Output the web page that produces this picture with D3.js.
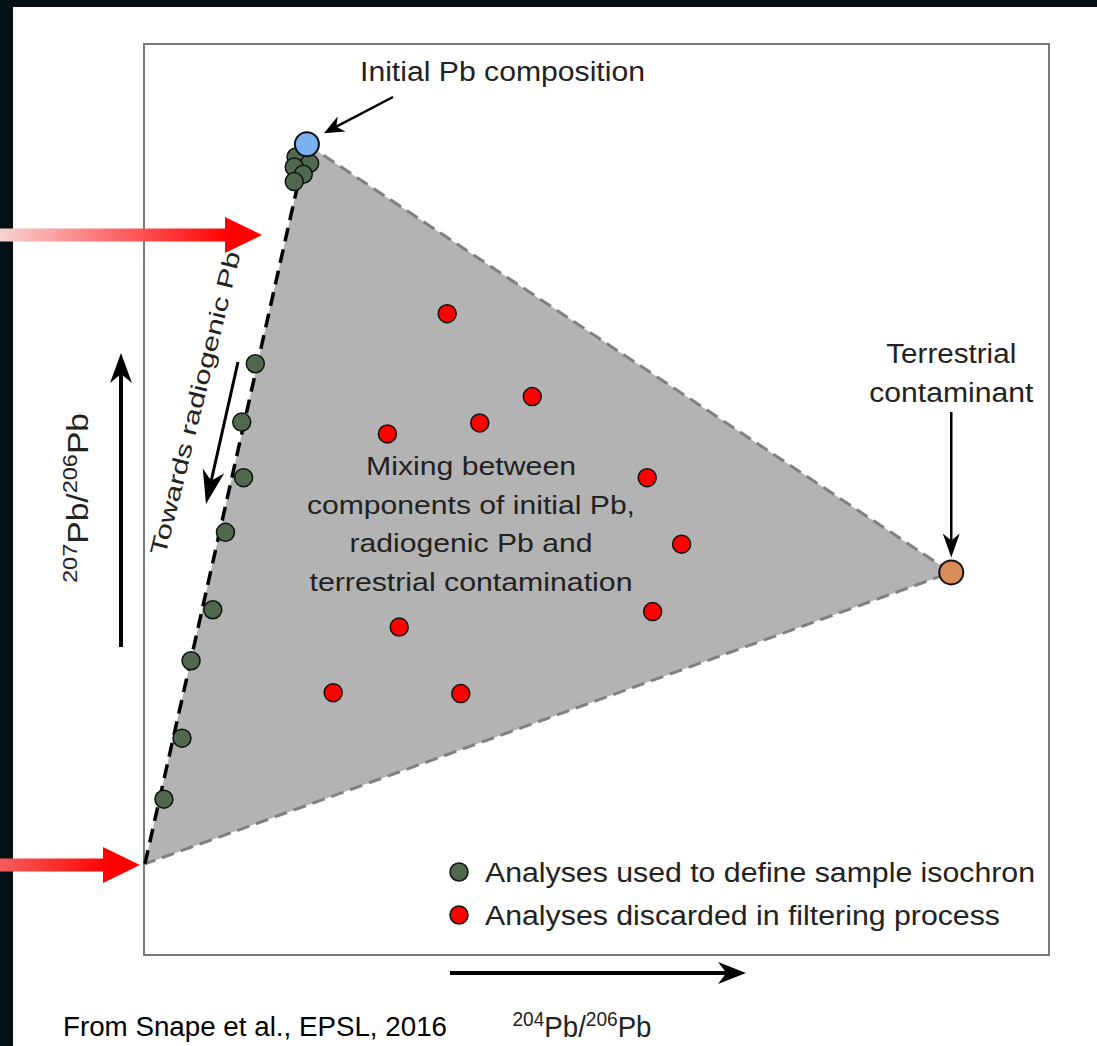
<!DOCTYPE html>
<html lang="en">
<head>
<meta charset="UTF-8">
<title>Pb isochron mixing diagram</title>
<script src="https://d3js.org/d3.v7.min.js"></script>
<style>
  html, body { margin: 0; padding: 0; background: #041014; }
  svg { display: block; }
  text { font-family: "Liberation Sans", Arial, sans-serif; fill: #222; }
</style>
</head>
<body>
<div id="chart"></div>
<script>
// values in arbitrary units (0-100) of 204Pb/206Pb (x) and 207Pb/206Pb (y)
const initialPb = [{ x: 18.0, y: 89.0 }];
const radiogenicPb = [{ x: 0.1, y: 10.0 }];
const terrestrialPb = [{ x: 89.2, y: 42.0 }];

const isochronPts = [
  { x: 16.8, y: 87.6 }, { x: 18.3, y: 86.9 }, { x: 16.6, y: 86.5 },
  { x: 17.6, y: 85.7 }, { x: 16.6, y: 84.9 },
  { x: 12.3, y: 64.9 }, { x: 10.8, y: 58.5 }, { x: 11.0, y: 52.4 },
  { x: 9.0, y: 46.4 }, { x: 7.6, y: 37.9 }, { x: 5.2, y: 32.3 },
  { x: 4.2, y: 23.8 }, { x: 2.2, y: 17.1 }
];
const discardedPts = [
  { x: 33.5, y: 70.4 }, { x: 42.9, y: 61.3 }, { x: 37.1, y: 58.4 },
  { x: 26.9, y: 57.2 }, { x: 55.6, y: 52.4 }, { x: 59.4, y: 45.1 },
  { x: 56.2, y: 37.7 }, { x: 28.2, y: 36.0 }, { x: 20.9, y: 28.8 },
  { x: 35.0, y: 28.7 }
];

const legendLabels = ["Analyses used to define sample isochron", "Analyses discarded in filtering process"];
const legendWidths = [550, 515];
const mixingLines = ["Mixing between", "components of initial Pb,", "radiogenic Pb and", "terrestrial contamination"];
const mixingWidths = [210, 328, 243, 323];

const W = 1097, H = 1046;
const box = { left: 144, top: 44, right: 1049, bottom: 955 };

const svg = d3.select("#chart").append("svg").attr("width", W).attr("height", H);
const defs = svg.append("defs");

// white panel over the dark slide
svg.append("rect").attr("x", 13).attr("y", 7).attr("width", W - 13).attr("height", H - 7).attr("fill", "#fff");

const x = d3.scaleLinear().domain([0, 100]).range([box.left, box.right]);
const y = d3.scaleLinear().domain([0, 100]).range([box.bottom, box.top]);

function fit(sel, w) {
  return sel.attr("textLength", w).attr("lengthAdjust", "spacingAndGlyphs");
}

// frame
svg.append("rect")
  .attr("x", box.left).attr("y", box.top)
  .attr("width", box.right - box.left).attr("height", box.bottom - box.top)
  .attr("fill", "none").attr("stroke", "#7a7a7a").attr("stroke-width", 2);

// mixing triangle
const tri = [radiogenicPb[0], initialPb[0], terrestrialPb[0]];
svg.append("path")
  .attr("d", d3.line().x(d => x(d.x)).y(d => y(d.y))(tri) + "Z")
  .attr("fill", "#b3b3b3");

svg.append("path")
  .attr("d", d3.line().x(d => x(d.x)).y(d => y(d.y))([initialPb[0], terrestrialPb[0], radiogenicPb[0]]))
  .attr("fill", "none").attr("stroke", "#808080").attr("stroke-width", 3)
  .attr("stroke-dasharray", "13,7");

svg.append("line")
  .attr("x1", x(radiogenicPb[0].x)).attr("y1", y(radiogenicPb[0].y))
  .attr("x2", x(initialPb[0].x)).attr("y2", y(initialPb[0].y))
  .attr("stroke", "#000").attr("stroke-width", 3.5)
  .attr("stroke-dasharray", "14,8");

function arrow(x1, y1, x2, y2, w, hl, hw) {
  const a = Math.atan2(y2 - y1, x2 - x1);
  const bx = x2 - hl * Math.cos(a), by = y2 - hl * Math.sin(a);
  svg.append("line").attr("x1", x1).attr("y1", y1).attr("x2", bx + hl * 0.3 * Math.cos(a)).attr("y2", by + hl * 0.3 * Math.sin(a))
    .attr("stroke", "#000").attr("stroke-width", w);
  const px = -Math.sin(a) * hw / 2, py = Math.cos(a) * hw / 2;
  svg.append("path")
    .attr("d", `M${x2},${y2} L${bx + px},${by + py} L${bx + hl * 0.3 * Math.cos(a)},${by + hl * 0.3 * Math.sin(a)} L${bx - px},${by - py} Z`)
    .attr("fill", "#000");
}

// points
svg.append("g").selectAll("circle").data(isochronPts).join("circle")
  .attr("cx", d => x(d.x)).attr("cy", d => y(d.y)).attr("r", 9)
  .attr("fill", "#4f684e").attr("stroke", "#111").attr("stroke-width", 1.5);

svg.append("g").selectAll("circle").data(discardedPts).join("circle")
  .attr("cx", d => x(d.x)).attr("cy", d => y(d.y)).attr("r", 9)
  .attr("fill", "#ff0000").attr("stroke", "#111").attr("stroke-width", 1.5);

svg.append("circle").datum(initialPb[0])
  .attr("cx", d => x(d.x)).attr("cy", d => y(d.y)).attr("r", 12)
  .attr("fill", "#7cb1f2").attr("stroke", "#111").attr("stroke-width", 2);

svg.append("circle").datum(terrestrialPb[0])
  .attr("cx", d => x(d.x)).attr("cy", d => y(d.y)).attr("r", 12)
  .attr("fill", "#d98c5a").attr("stroke", "#111").attr("stroke-width", 2);

// annotations
fit(svg.append("text").attr("x", 360).attr("y", 81)
  .attr("font-size", 27).text("Initial Pb composition"), 285);
arrow(393, 97, x(initialPb[0].x) + 17, y(initialPb[0].y) - 11, 2.5, 20, 17);

const tx = x(terrestrialPb[0].x);
fit(svg.append("text").attr("x", tx).attr("y", 363).attr("text-anchor", "middle")
  .attr("font-size", 27).text("Terrestrial"), 130);
fit(svg.append("text").attr("x", tx).attr("y", 402).attr("text-anchor", "middle")
  .attr("font-size", 27).text("contaminant"), 164);
arrow(tx, 412, tx, y(terrestrialPb[0].y) - 15, 2.5, 24, 17);

svg.append("g").selectAll("text").data(mixingLines).join("text")
  .attr("x", 471).attr("y", (d, i) => 475 + i * 38.5)
  .attr("text-anchor", "middle").attr("font-size", 26)
  .attr("textLength", (d, i) => mixingWidths[i]).attr("lengthAdjust", "spacingAndGlyphs")
  .text(d => d);

// towards radiogenic
fit(svg.append("text")
  .attr("transform", "translate(203,405) rotate(-76)")
  .attr("text-anchor", "middle").attr("font-size", 23)
  .text("Towards radiogenic Pb"), 312);
arrow(238, 362, 206, 504, 3, 34, 22);

// axis arrows and labels
arrow(121, 647, 121, 353, 4, 30, 22);
arrow(450, 973, 746, 973, 4, 28, 22);

const yl = svg.append("text")
  .attr("transform", "translate(88,498) rotate(-90)")
  .attr("text-anchor", "middle").attr("font-size", 30);
yl.append("tspan").attr("font-size", 21).attr("dy", -11).text("207");
yl.append("tspan").attr("dy", 11).text("Pb/");
yl.append("tspan").attr("font-size", 21).attr("dy", -11).text("206");
yl.append("tspan").attr("dy", 11).text("Pb");
fit(yl, 170);

const xl = svg.append("text")
  .attr("x", 582).attr("y", 1037)
  .attr("text-anchor", "middle").attr("font-size", 29);
xl.append("tspan").attr("font-size", 20).attr("dy", -11).text("204");
xl.append("tspan").attr("dy", 11).text("Pb/");
xl.append("tspan").attr("font-size", 20).attr("dy", -11).text("206");
xl.append("tspan").attr("dy", 11).text("Pb");
fit(xl, 139);

// legend
const legendColors = ["#4f684e", "#ff0000"];
const lg = svg.append("g").selectAll("g").data(legendLabels).join("g")
  .attr("transform", (d, i) => `translate(459,${872 + i * 43})`);
lg.append("circle").attr("r", 9).attr("fill", (d, i) => legendColors[i])
  .attr("stroke", "#111").attr("stroke-width", 1.5);
lg.append("text").attr("x", 26).attr("y", 9.5).attr("font-size", 27)
  .attr("textLength", (d, i) => legendWidths[i]).attr("lengthAdjust", "spacingAndGlyphs")
  .text(d => d);

// red pointer arrows
const g1 = defs.append("linearGradient").attr("id", "fade1")
  .attr("gradientUnits", "userSpaceOnUse").attr("x1", 0).attr("x2", 230).attr("y1", 0).attr("y2", 0);
g1.append("stop").attr("offset", 0).attr("stop-color", "#f7d3d3");
g1.append("stop").attr("offset", 1).attr("stop-color", "#ff0000");
const g2 = defs.append("linearGradient").attr("id", "fade2")
  .attr("gradientUnits", "userSpaceOnUse").attr("x1", 0).attr("x2", 110).attr("y1", 0).attr("y2", 0);
g2.append("stop").attr("offset", 0).attr("stop-color", "#f65c5c");
g2.append("stop").attr("offset", 1).attr("stop-color", "#ff0000");

function redArrow(tipX, cy, headStart, fill) {
  svg.append("path")
    .attr("d", `M0,${cy - 6.5} L${headStart},${cy - 6.5} L${headStart},${cy - 18} L${tipX},${cy} L${headStart},${cy + 18} L${headStart},${cy + 6.5} L0,${cy + 6.5} Z`)
    .attr("fill", fill);
}
redArrow(262, 235, 225, "url(#fade1)");
redArrow(x(radiogenicPb[0].x) - 5, 865, 103, "url(#fade2)");

// credit
fit(svg.append("text").attr("x", 63).attr("y", 1036)
  .attr("font-family", "Lato, 'Open Sans', sans-serif").attr("font-size", 27)
  .style("fill", "#000").text("From Snape et al., EPSL, 2016"), 384);
</script>
</body>
</html>
